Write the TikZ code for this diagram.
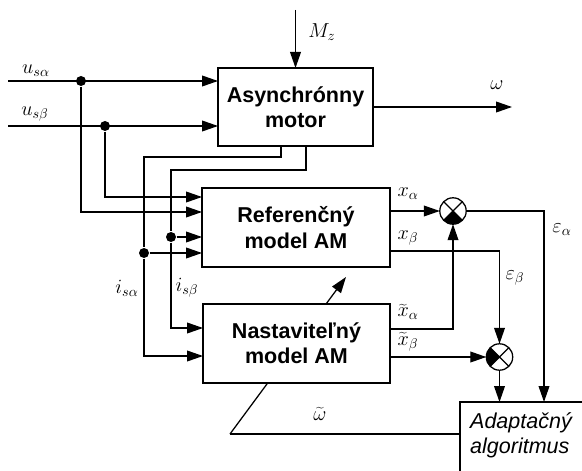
\documentclass[tikz,border=0pt]{standalone}
\usepackage{fontspec}
\setsansfont{Liberation Sans}
\usetikzlibrary{positioning,arrows.meta,calc}

\begin{document}
\begin{tikzpicture}[
  x=0.25mm, y=-0.25mm,
  line width=0.9pt,
  block/.style={rectangle, draw, fill=white, align=center, outer sep=0pt,
    font=\sffamily\bfseries\fontsize{15.3}{18}\selectfont},
  arrow/.style={-{Triangle[length=4mm,width=2.7mm]}},
  sumnode/.style={circle, draw, fill=white, minimum size=6.6mm, inner sep=0pt, outer sep=0pt},
  dot/.style={circle, fill, minimum size=2.5mm, inner sep=0pt},
  lbl/.style={font=\fontsize{14.5}{16}\selectfont}
]
  \useasboundingbox (0,0) rectangle (582,471);
  \clip (0,0) rectangle (582,471);

  % Blocks
  \node[block, minimum width=38.75mm, minimum height=19.5mm] (motor) at (295.5,107) {Asynchrónny\\motor};
  \node[block, minimum width=47mm, minimum height=19.75mm] (ref) at (296,227.5) {Referenčný\\model AM};
  \node[draw, minimum width=35mm, minimum height=25mm, anchor=north west, outer sep=0pt] (adaptbox) at (460,402) {};
  \node[font=\sffamily\itshape\fontsize{15.3}{18}\selectfont, align=left] (adapt) at (521,435) {Adaptačný\\algoritmus};

  % Adaptation path (behind the adjustable model)
  \coordinate (wknee) at (230,434);
  \coordinate (wtip) at (346,277);
  \draw (adaptbox.west |- wknee) -- (wknee);
  \draw[arrow] (wknee) -- (wtip);
  \node[block, minimum width=46.75mm, minimum height=19.75mm] (nast) at (296.5,343.5) {Nastaviteľný\\model AM};

  % Comparators
  \node[sumnode] (sum1) at (453,211) {};
  \node[sumnode] (sum2) at (499.5,357) {};
  \fill (sum1.center) -- (sum1.225) arc[start angle=225, end angle=315, radius=3.3mm] -- cycle;
  \fill (sum2.center) -- (sum2.135) arc[start angle=135, end angle=225, radius=3.3mm] -- cycle;
  \draw (sum1.45) -- (sum1.225) (sum1.135) -- (sum1.315);
  \draw (sum2.45) -- (sum2.225) (sum2.135) -- (sum2.315);

  % Inputs
  \coordinate (mz) at (295.5,10);
  \coordinate (usa) at (8,81);
  \coordinate (usb) at (8,126);
  \node[dot] (da) at (81,81) {};
  \node[dot] (db) at (105,126) {};
  \draw[arrow] (mz) -- (motor);
  \draw[arrow] (usa) -- (usa -| motor.west);
  \draw[arrow] (usb) -- (usb -| motor.west);
  \draw[arrow] (db) |- ($(ref.west)+(0,-30.5)$);
  \draw[arrow] (da) |- ($(ref.west)+(0,-15.5)$);

  % Stator currents
  \node[dot] (dia) at (144,253) {};
  \node[dot] (dib) at (171,237) {};
  \draw[arrow] ($(motor.south)+(-14.5,0)$) -- ++(0,11) -| (dia) |- ($(nast.west)+(0,12.5)$);
  \draw[arrow] (dia) -- (dia -| ref.west);
  \draw[arrow] ($(motor.south)+(10.5,0)$) -- ++(0,24) -| (dib) |- ($(nast.west)+(0,-15.5)$);
  \draw[arrow] (dib) -- (dib -| ref.west);

  % Outputs
  \coordinate (wout) at (512,107);
  \draw[arrow] (motor.east) -- (wout);
  \draw[arrow] (sum1 -| ref.east) -- (sum1);
  \draw[arrow] ($(ref.east)+(0,23.5)$) -| (sum2);
  \draw[arrow] ($(nast.east)+(0,-14.5)$) -| (sum1);
  \draw[arrow] (sum2 -| nast.east) -- (sum2);
  \draw[arrow] (sum1) -| ($(adaptbox.north west)+(84,0)$);
  \draw[arrow] (sum2) -- (sum2 |- adaptbox.north);

  % Labels
  \node[lbl] (lmz) at (322,32) {$M_z$};
  \node[lbl] (lw) at (497,85) {$\omega$};
  \node[lbl] (lusa) at (36,71) {$u_{s\alpha}$};
  \node[lbl] (lusb) at (35,114) {$u_{s\beta}$};
  \node[lbl] (lisa) at (127,288) {$i_{s\alpha}$};
  \node[lbl] (lisb) at (187,288) {$i_{s\beta}$};
  \node[lbl] (lxa) at (408,194) {$x_\alpha$};
  \node[lbl] (lxb) at (408,238) {$x_\beta$};
  \node[lbl] (lxta) at (408,312) {$\widetilde{x}_\alpha$};
  \node[lbl] (lxtb) at (408,342) {$\widetilde{x}_\beta$};
  \node[lbl] (leb) at (515,278) {$\varepsilon_\beta$};
  \node[lbl] (lea) at (562,230) {$\varepsilon_\alpha$};
  \node[lbl] (lwt) at (320,414) {$\widetilde{\omega}$};
\end{tikzpicture}
\end{document}
